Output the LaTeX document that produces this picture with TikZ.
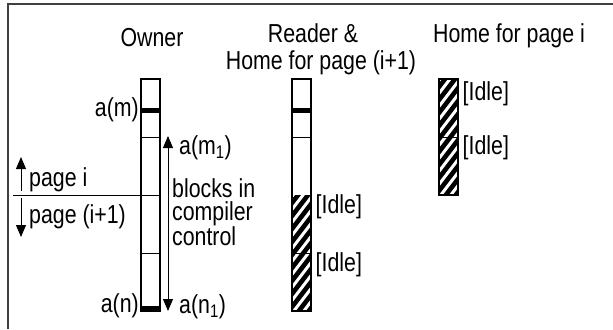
\documentclass[tikz,border=0pt]{standalone}
\usepackage{fontspec}
\setmainfont{Liberation Sans}[FakeStretch=0.82]
\usetikzlibrary{arrows.meta}

\tikzset{
  lbl/.style={inner sep=0pt, font=\fontsize{26bp}{23.5bp}\selectfont},
  memcol/.style={draw=black, line width=1.4bp},
  blockline/.style={draw=black, line width=0.9bp},
  ptr/.style={-{Triangle[width=10bp,length=12bp]}, line width=0.9bp},
  addrspan/.style={{Triangle[width=10bp,length=12bp]}-{Triangle[width=10bp,length=12bp]}, line width=0.9bp},
}

\begin{document}
\begin{tikzpicture}[x=1bp,y=-1bp]
  \useasboundingbox (0,0) rectangle (613,329);
  % frame (cut at bottom and right)
  \draw[line width=2bp, black!75] (8,329) -- (8,4) -- (613,4);

  % column headings
  \node[lbl, anchor=base] (owner) at (152,46) {Owner};
  \node[lbl, anchor=base] (reader) at (313,42) {Reader \&};
  \node[lbl, anchor=base] (homenext) at (321,69) {Home for page (i+1)};
  \node[lbl, anchor=base] (homei) at (509,42) {Home for page i};

  % idle blocks: black with white stripes
  \foreach \x/\ya/\yb in {292/195/311, 439/79/195} {
    \begin{scope}
      \clip (\x,\ya) rectangle (\x+19,\yb);
      \fill[black] (\x,\ya) rectangle (\x+19,\yb);
      \foreach \k in {0,...,12}
        \draw[white, line width=3bp] (\x-2,\ya+\k*13+4) -- (\x+21,\ya+\k*13-26);
    \end{scope}
  }

  % owner
  \draw[memcol] (141,79) rectangle (160,311);
  \foreach \y in {137,195,253}
    \draw[blockline] (141,\y) -- (160,\y);
  \fill (141,107.5) rectangle (160,112.5);
  \fill (141,306) rectangle (160,311);

  % reader
  \draw[memcol] (292,79) rectangle (311,311);
  \foreach \y in {137,253}
    \draw[blockline] (292,\y) -- (311,\y);
  \fill (292,107.5) rectangle (311,112.5);

  % home for page i
  \draw[memcol] (439,79) rectangle (458,195);
  \draw[blockline] (439,137) -- (458,137);

  % addresses
  \node[lbl, anchor=east] (am) at (139,110) {a(m)};
  \node[lbl, anchor=east] (an) at (139,306) {a(n)};
  \node[lbl, anchor=west] (am1) at (179,147.5) {a(m\textsubscript{1})};
  \node[lbl, anchor=west] (an1) at (179,307) {a(n\textsubscript{1})};
  \coordinate (rtop) at (168,136);
  \coordinate (rbot) at (168,311);
  \draw[addrspan] (rtop) -- (rbot);
  \node[lbl, anchor=north west, align=left] (blocks) at (172,178)
    {blocks in\\compiler\\control};

  % page boundary
  \coordinate (cut) at (13,195);
  \coordinate (cutend) at (141,195);
  \draw[blockline] (cut) -- (cutend);
  \coordinate (upfrom) at (21,191);
  \coordinate (upto) at (21,157);
  \coordinate (downfrom) at (21,198);
  \coordinate (downto) at (21,237);
  \draw[ptr] (upfrom) -- (upto);
  \draw[ptr] (downfrom) -- (downto);
  \node[lbl, anchor=west] (pagei) at (29,179.5) {page i};
  \node[lbl, anchor=west] (pagenext) at (29,216.5) {page (i+1)};

  % idle labels
  \node[lbl, anchor=west] (idlea) at (315.5,207) {[Idle]};
  \node[lbl, anchor=west] (idleb) at (315.5,265) {[Idle]};
  \node[lbl, anchor=west] (idlec) at (462.5,94) {[Idle]};
  \node[lbl, anchor=west] (idled) at (462.5,148) {[Idle]};
\end{tikzpicture}
\end{document}
